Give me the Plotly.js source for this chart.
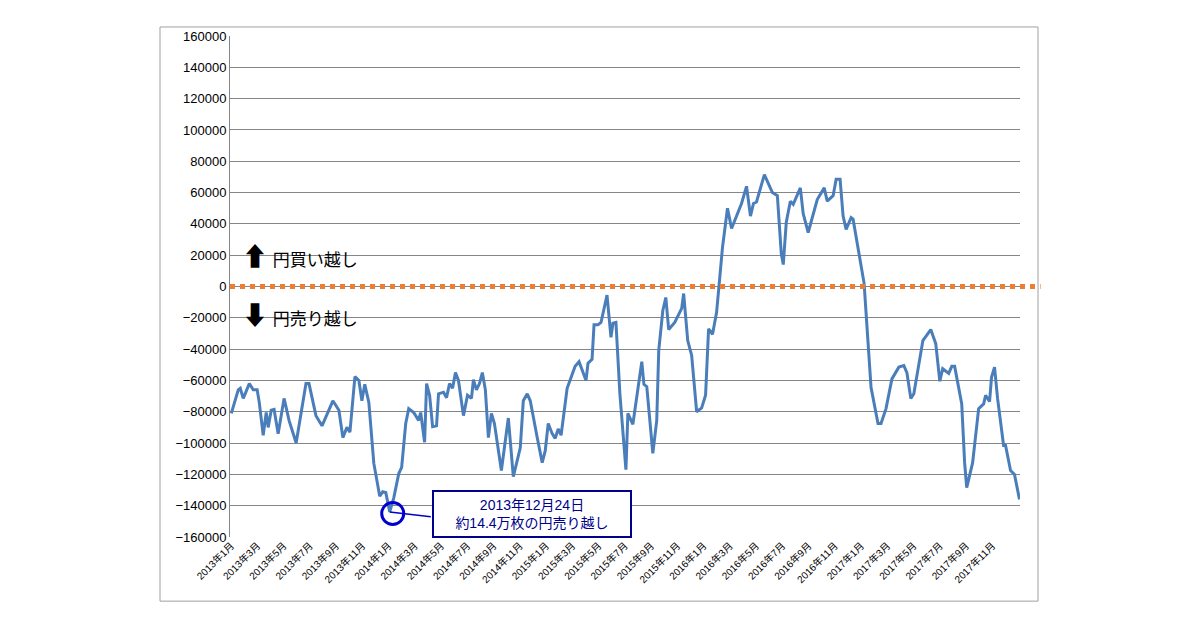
<!DOCTYPE html>
<html>
<head>
<meta charset="utf-8">
<script src="https://cdn.plot.ly/plotly-3.0.1.min.js"></script>
<style>body{margin:0;background:#fff}#plot{width:1200px;height:630px}</style>
</head>
<body>
<div id="plot"></div>
<script>
// months since 2013年1月 and net yen position (contracts)
const months = [0,0.53,0.68,0.91,1.37,1.67,1.97,2.13,2.43,2.66,2.81,3.04,3.26,3.57,4.02,4.40,4.94,5.69,5.92,6.45,6.91,7.37,7.74,8.20,8.50,8.81,9.04,9.42,9.72,9.95,10.17,10.48,10.86,11.31,11.54,11.77,12.07,12.38,12.76,12.98,13.29,13.52,13.90,14.27,14.43,14.73,14.88,15.11,15.34,15.64,15.79,16.17,16.40,16.63,16.86,17.08,17.31,17.69,18.00,18.30,18.45,18.68,18.91,19.13,19.36,19.59,19.82,20.05,20.58,21.11,21.49,22.02,22.25,22.55,22.78,23.31,23.69,23.92,24.15,24.45,24.68,24.91,25.13,25.59,25.82,26.20,26.50,27.03,27.18,27.49,27.64,27.94,28.17,28.63,28.93,29.08,29.31,29.61,30.07,30.22,30.60,31.28,31.44,31.66,32.12,32.42,32.57,32.88,33.11,33.33,33.79,34.32,34.47,34.78,35.08,35.46,35.84,36.14,36.37,36.67,36.98,37.43,37.81,38.12,38.88,39.26,39.56,39.79,40.02,40.62,41.23,41.61,41.91,42.06,42.29,42.60,42.82,43.36,43.58,43.96,44.65,45.18,45.41,45.86,46.09,46.39,46.62,46.85,47.23,47.38,48.22,48.75,49.28,49.51,49.89,50.34,50.87,51.25,51.48,51.78,52.01,52.47,52.70,53.30,53.68,53.99,54.21,54.67,54.90,55.12,55.66,55.88,56.04,56.49,56.95,57.33,57.48,57.78,57.93,58.16,58.39,58.85,59.00,59.38,59.68,60.06];
const netPosition = [-81000,-66000,-65000,-71500,-62000,-66000,-66000,-74000,-95000,-80500,-90000,-79000,-78500,-94000,-71500,-85500,-100000,-62000,-62000,-82500,-89000,-80500,-73000,-79000,-96500,-90000,-93000,-57500,-60000,-73000,-62500,-74000,-113000,-134000,-131000,-131500,-144000,-135000,-119500,-115500,-87500,-78000,-80500,-85500,-80500,-99500,-62000,-69500,-89500,-89000,-68500,-67500,-71000,-62000,-65000,-55000,-60000,-82500,-69500,-71500,-59500,-66000,-62000,-55000,-66000,-96500,-81000,-87500,-117500,-84000,-121500,-103000,-73000,-68500,-73000,-96500,-112500,-105000,-87500,-94000,-97000,-91000,-95000,-65000,-60000,-51000,-48000,-60000,-49000,-46500,-24500,-24500,-23000,-5500,-32500,-23500,-23000,-68500,-117000,-81000,-88000,-48000,-62500,-64000,-106500,-85500,-41000,-15500,-7000,-27500,-23000,-14000,-4500,-34500,-44000,-80000,-77500,-69500,-27000,-30500,-16500,25000,50000,37000,53000,64000,45000,53000,54000,71500,60000,58000,21000,14000,41000,54500,52500,63000,46500,34500,55500,63000,54500,58000,68500,68500,45000,36500,44000,43000,2000,-64500,-87500,-87500,-78000,-59000,-51500,-50500,-55000,-71500,-68500,-47000,-34500,-27500,-36500,-60500,-52500,-55500,-51000,-51000,-75000,-112500,-128500,-112500,-78000,-75000,-69500,-73500,-58000,-51500,-71500,-101500,-101500,-117500,-120000,-136000];

const tickMonths = [];
const tickLabels = [];
for (let m = 0; m <= 58; m += 2) {
  tickMonths.push(m);
  tickLabels.push(`${2013 + Math.floor(m / 12)}年${(m % 12) + 1}月`);
}
const yTicks = [];
for (let v = -160000; v <= 160000; v += 20000) yTicks.push(v);

const font = 'Liberation Sans, Arial, Noto Sans CJK JP, sans-serif';

const data = [{
  x: months,
  y: netPosition,
  type: 'scatter',
  mode: 'lines',
  line: { color: '#4a7ebb', width: 3 },
  hoverinfo: 'skip',
}];

const layout = {
  width: 1200,
  height: 630,
  margin: { l: 230, r: 180, t: 36, b: 93 },
  paper_bgcolor: '#fff',
  plot_bgcolor: '#fff',
  showlegend: false,
  font: { family: font, size: 13, color: '#000' },
  xaxis: {
    range: [-0.1, 60.1],
    tickvals: tickMonths,
    ticktext: tickLabels,
    tickangle: -45,
    tickfont: { size: 10, color: '#000' },
    showgrid: false,
    zeroline: false,
    showline: false,
    ticks: '',
  },
  yaxis: {
    range: [-160000, 160000],
    tickvals: yTicks,
    tickformat: 'd',
    showgrid: true,
    gridcolor: '#868686',
    gridwidth: 1,
    zeroline: false,
    showline: true,
    linecolor: '#868686',
    ticks: '',
    ticklen: 0,
    tickfont: { size: 13, color: '#000' },
  },
  shapes: [
    { type: 'rect', xref: 'paper', yref: 'paper', x0: -0.0886, x1: 1.0228, y0: -0.128, y1: 1.018,
      line: { color: '#a0a0a0', width: 1 } },
    { type: 'line', xref: 'paper', yref: 'y', x0: 0, x1: 1.026, y0: 0, y1: 0,
      line: { color: '#ed7d31', width: 5, dash: 'dot' } },
    { type: 'line', xref: 'x', yref: 'y', x0: 12.07, y0: -144000, x1: 15.2, y1: -147000,
      line: { color: '#0000cc', width: 1.5 } },
    { type: 'circle', xref: 'x', yref: 'y', xsizemode: 'pixel', ysizemode: 'pixel',
      xanchor: 12.3, yanchor: -145000, x0: -11, x1: 11, y0: -11, y1: 11,
      fillcolor: 'rgba(0,0,0,0)', line: { color: '#0000cc', width: 3 } },
  ],
  annotations: [
    { xref: 'paper', yref: 'y', x: 0.013, y: 19000, xanchor: 'left', showarrow: false,
      text: '<span style="font-size:26px">⬆</span> 円買い越し', font: { size: 17, color: '#000' } },
    { xref: 'paper', yref: 'y', x: 0.013, y: -19000, xanchor: 'left', showarrow: false,
      text: '<span style="font-size:26px">⬇</span> 円売り越し', font: { size: 17, color: '#000' } },
    { xref: 'x', yref: 'y', x: 22.95, y: -145500, showarrow: false,
      text: '2013年12月24日<br>約14.4万枚の円売り越し', align: 'center',
      font: { size: 14, color: '#00008b' }, bgcolor: '#fff',
      bordercolor: '#00008b', borderwidth: 2, borderpad: 5, width: 186 },
  ],
};

Plotly.newPlot('plot', data, layout, { displayModeBar: false, staticPlot: true });
</script>
</body>
</html>
